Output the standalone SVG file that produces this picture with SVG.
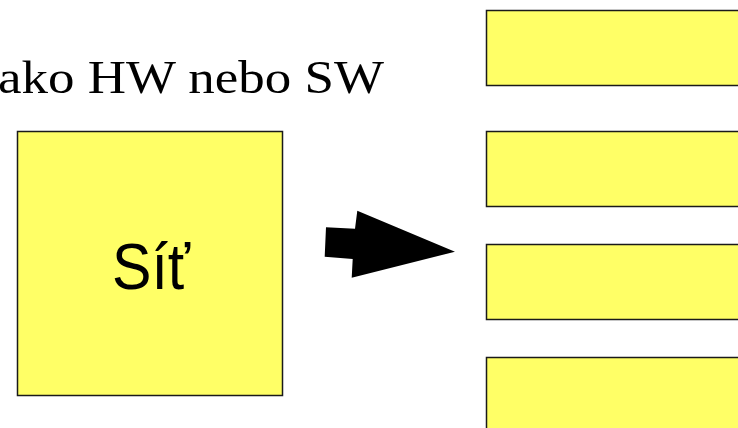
<svg xmlns="http://www.w3.org/2000/svg" width="738" height="428" viewBox="0 0 738 428">
<style>
.box{fill:#ffff66;stroke:#1a1a1a;stroke-width:1.5}
.serif{font-family:"Liberation Serif","Times New Roman",serif;fill:#000}
.sans{font-family:"Liberation Sans",Arial,sans-serif;fill:#000}
</style>
<rect width="738" height="428" fill="#fff"/>
<text class="serif" x="-2" y="93" font-size="47" textLength="386" lengthAdjust="spacingAndGlyphs">ako HW nebo SW</text>
<g id="sit">
<rect class="box" x="17.5" y="131.5" width="265" height="264"/>
<text class="sans" x="151" y="289" font-size="64" text-anchor="middle" textLength="78" lengthAdjust="spacingAndGlyphs">Síť</text>
</g>
<g id="box1"><rect class="box" x="486.5" y="10.5" width="260" height="75"/></g>
<g id="box2"><rect class="box" x="486.5" y="131.5" width="260" height="75"/></g>
<g id="box3"><rect class="box" x="486.5" y="244.5" width="260" height="75"/></g>
<g id="box4"><rect class="box" x="486.5" y="357.5" width="260" height="80"/></g>
<g id="connectors">
<polygon points="326,227.3 355,228.7 357.3,210.7 455,251.7 351.7,277.7 352.7,259 324.7,256.7" fill="#000"/>
</g>
</svg>
